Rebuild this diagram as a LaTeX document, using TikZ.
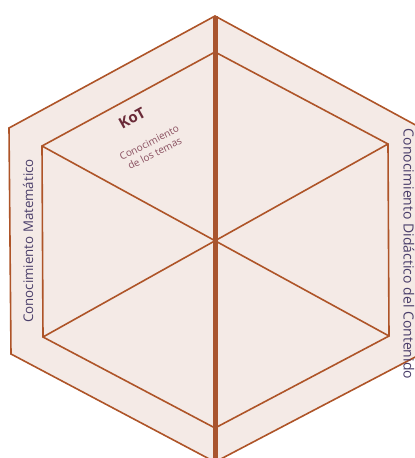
\documentclass[tikz,border=0pt]{standalone}
\usepackage{fontspec}
\setmainfont{Open Sans}
\definecolor{hexfill}{HTML}{F4EAE6}
\definecolor{hexline}{HTML}{AE5428}
\definecolor{axisline}{HTML}{A9552F}
\definecolor{kot}{HTML}{6A2A38}
\definecolor{kotsub}{HTML}{8A5060}
\definecolor{sidetext}{HTML}{4A3E6A}
\begin{document}
\begin{tikzpicture}[x=1pt,y=-1pt,
  edge/.style={draw=hexline,line width=1.6pt,line join=miter},
  axis/.style={draw=axisline,line width=5pt},
  side/.style={text=sidetext,inner sep=0pt}]
\useasboundingbox (0,0) rectangle (415,458);
% outer hexagon
\coordinate (OT) at (215,16);
\coordinate (OUL) at (9,128);
\coordinate (OLL) at (11,354);
\coordinate (OB) at (215,462);
\coordinate (OLR) at (421,354);
\coordinate (OUR) at (421,128);
% inner hexagon
\coordinate (IT) at (215,52);
\coordinate (IUL) at (42,146);
\coordinate (ILL) at (43,337);
\coordinate (IB) at (215,428);
\coordinate (ILR) at (389,336);
\coordinate (IUR) at (388,144);
\fill[hexfill] (OT) -- (OUR) -- (OLR) -- (OB) -- (OLL) -- (OUL) -- cycle;
\draw[edge] (OT) -- (OUR) -- (OLR) -- (OB) -- (OLL) -- (OUL) -- cycle;
\draw[edge] (IT) -- (IUR) -- (ILR) -- (IB) -- (ILL) -- (IUL) -- cycle;
\draw[edge] (IUL) -- (ILR);
\draw[edge] (IUR) -- (ILL);
\coordinate (AT) at (215,16);
\coordinate (AB) at (215,462);
\draw[axis] (AT) -- (AB);
\node[text=kot,font=\bfseries\fontsize{15}{17}\selectfont,rotate=29,inner sep=0pt] (kot) at (132,118) {KoT};
\node[text=kotsub,font=\fontsize{10}{12}\selectfont,rotate=27,align=center,inner sep=0pt] (kotsub) at (152,148) {Conocimiento\\de los temas};
\node[side,rotate=90,font=\fontsize{13.3}{15}\selectfont] (cm) at (28,241) {Conocimiento Matemático};
\node[side,rotate=-90,font=\fontsize{14}{16}\selectfont] (cdc) at (409,254) {Conocimiento Didáctico del Contenido};
\end{tikzpicture}
\end{document}
